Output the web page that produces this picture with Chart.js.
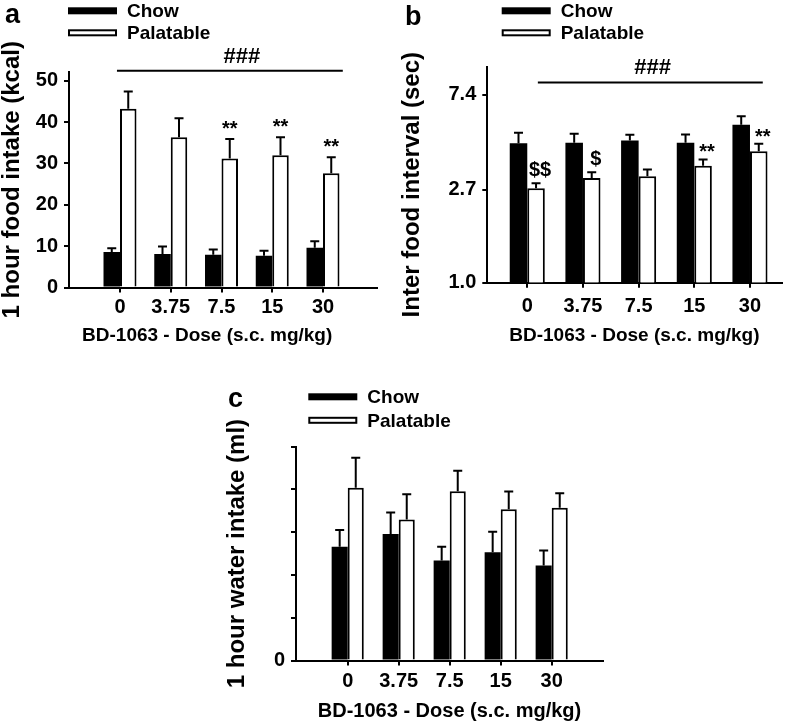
<!DOCTYPE html>
<html>
<head>
<meta charset="utf-8">
<script src="https://cdn.jsdelivr.net/npm/chart.js@4.4.1/dist/chart.umd.min.js"></script>
<style>
  body { margin: 0; background: #fff; }
  #wrap { position: relative; width: 796px; height: 727px; }
  #wrap canvas { position: absolute; left: 0; top: 0; }
</style>
</head>
<body>
<div id="wrap">
  <canvas id="chartA" width="796" height="727"></canvas>
  <canvas id="chartB" width="796" height="727"></canvas>
  <canvas id="chartC" width="796" height="727"></canvas>
</div>
<script>
const doses = ['0', '3.75', '7.5', '15', '30'];
const seriesNames = ['Chow', 'Palatable'];

// a: 1 hour food intake (kcal)
const intakeChow = [8.6, 8.1, 7.9, 7.7, 9.6];
const intakeChowErr = [0.9, 1.8, 1.3, 1.2, 1.6];
const intakePal = [43.2, 36.3, 31.2, 32.0, 27.6];
const intakePalErr = [4.2, 4.6, 4.7, 4.3, 3.9];
const intakeSig = ['', '', '**', '**', '**'];
const intakeTicks = [0, 10, 20, 30, 40, 50];

// b: inter food interval (sec), log axis
const intervalChow = [4.42, 4.44, 4.55, 4.44, 5.38];
const intervalChowErr = [0.52, 0.45, 0.29, 0.41, 0.51];
const intervalPal = [2.74, 3.05, 3.11, 3.48, 4.06];
const intervalPalErr = [0.15, 0.20, 0.23, 0.24, 0.34];
const intervalSig = ['$$', '$', '', '**', '**'];
const intervalTicks = [1.0, 2.7, 7.4];

// c: 1 hour water intake (ml), axis unlabelled except 0
const waterChow = [2.66, 2.96, 2.34, 2.53, 2.22];
const waterChowErr = [0.39, 0.50, 0.32, 0.48, 0.35];
const waterPal = [4.04, 3.30, 3.96, 3.54, 3.57];
const waterPalErr = [0.70, 0.59, 0.48, 0.41, 0.34];
const waterTicks = [0, 1, 2, 3, 4, 5];

const FONT = "'Liberation Sans', Arial, Helvetica, sans-serif";
const xTitleText = 'BD-1063 - Dose (s.c. mg/kg)';

// error bars, significance marks, ### line, legend and panel letter
const panelDecor = {
  id: 'panelDecor',
  afterDatasetsDraw(chart, args, opts) {
    const ctx = chart.ctx;
    const x = chart.scales.x, y = chart.scales.y;
    ctx.save();
    ctx.strokeStyle = '#000';
    ctx.fillStyle = '#000';
    ctx.lineWidth = 2;

    chart.data.datasets.forEach((ds, di) => {
      const meta = chart.getDatasetMeta(di);
      meta.data.forEach((bar, i) => {
        const top = y.getPixelForValue(ds.data[i].y + ds.errors[i]);
        ctx.beginPath();
        ctx.moveTo(bar.x, bar.y);
        ctx.lineTo(bar.x, top);
        ctx.moveTo(bar.x - 4.5, top);
        ctx.lineTo(bar.x + 4.5, top);
        ctx.stroke();
      });
    });

    if (opts.marks) {
      const ds = chart.data.datasets[1];
      const meta = chart.getDatasetMeta(1);
      ctx.font = `bold 20px ${FONT}`;
      ctx.textAlign = 'center';
      ctx.textBaseline = 'alphabetic';
      opts.marks.forEach((m, i) => {
        if (!m) return;
        const top = y.getPixelForValue(ds.data[i].y + ds.errors[i]);
        const gap = m.includes('$') ? opts.dollarGap : opts.starGap;
        ctx.fillText(m, meta.data[i].x + opts.dx, top - gap);
      });
    }

    if (opts.hash) {
      const h = opts.hash;
      const x1 = x.getPixelForValue(h.from), x2 = x.getPixelForValue(h.to);
      const yy = y.getPixelForValue(h.value);
      ctx.beginPath();
      ctx.moveTo(x1, yy);
      ctx.lineTo(x2, yy);
      ctx.stroke();
      ctx.font = `bold 22px ${FONT}`;
      ctx.textAlign = 'center';
      ctx.textBaseline = 'alphabetic';
      ctx.fillText('###', x.getPixelForValue(h.textAt), yy - 8);
    }

    const lg = opts.legend;
    chart.data.datasets.forEach((ds, di) => {
      const ty = lg.y + di * lg.gap;
      ctx.fillStyle = ds.backgroundColor;
      ctx.fillRect(lg.x, ty, 49, 7);
      if (ds.borderWidth) {
        ctx.strokeStyle = ds.borderColor;
        ctx.lineWidth = 2;
        ctx.strokeRect(lg.x + 1, ty + 1, 47, 5);
      }
      ctx.fillStyle = '#000';
      ctx.font = `bold 19px ${FONT}`;
      ctx.textAlign = 'left';
      ctx.textBaseline = 'middle';
      ctx.fillText(ds.label, lg.x + 59, ty + 4.5);
    });

    ctx.font = `bold 27px ${FONT}`;
    ctx.textAlign = 'left';
    ctx.textBaseline = 'alphabetic';
    ctx.fillText(opts.letter.text, opts.letter.x, opts.letter.y);
    ctx.restore();
  }
};

function makeChart(id, cfg) {
  const tickFont = { family: FONT, size: 20, weight: 'bold' };
  return new Chart(document.getElementById(id), {
    type: 'bar',
    data: {
      datasets: [
        {
          label: seriesNames[0],
          data: cfg.chow.map((v, i) => ({ x: i, y: v })),
          errors: cfg.chowErr,
          backgroundColor: '#000',
          borderColor: '#000',
          borderWidth: 0
        },
        {
          label: seriesNames[1],
          data: cfg.pal.map((v, i) => ({ x: i, y: v })),
          errors: cfg.palErr,
          backgroundColor: '#fff',
          borderColor: '#000',
          borderWidth: 2
        }
      ]
    },
    options: {
      responsive: false,
      animation: false,
      devicePixelRatio: 1,
      layout: { padding: cfg.padding },
      datasets: { bar: { categoryPercentage: cfg.catPct, barPercentage: 1 } },
      plugins: {
        legend: { display: false },
        tooltip: { enabled: false },
        panelDecor: cfg.decor
      },
      scales: {
        x: {
          type: 'linear',
          offset: false,
          bounds: 'data',
          min: cfg.xMin,
          max: cfg.xMax,
          afterBuildTicks: s => { s.ticks = doses.map((_, i) => ({ value: i })); },
          afterFit: s => { s.height = cfg.xHeight; },
          grid: { offset: false, drawOnChartArea: false, drawTicks: true, tickLength: 5, color: '#000', lineWidth: 2 },
          border: { color: '#000', width: 2 },
          ticks: { callback: v => doses[v], font: tickFont, color: '#000', padding: cfg.xPad, maxRotation: 0, autoSkip: false },
          title: {
            display: true, text: cfg.xTitle, color: '#000',
            font: { family: FONT, size: cfg.xTitleSize, weight: 'bold' },
            padding: { top: 0, bottom: cfg.xTitlePad }
          }
        },
        y: {
          type: cfg.yType,
          min: cfg.yMin,
          max: cfg.yMax,
          afterBuildTicks: s => { s.ticks = cfg.yTicks.map(v => ({ value: v })); },
          afterFit: s => { s.width = cfg.yWidth; },
          grid: { drawOnChartArea: false, drawTicks: true, tickLength: 5, color: '#000', lineWidth: 2 },
          border: { color: '#000', width: 2 },
          ticks: { callback: cfg.yLabel, font: tickFont, color: '#000', padding: 6, autoSkip: false },
          title: {
            display: true, text: cfg.yTitle, color: '#000',
            font: { family: FONT, size: 24, weight: 'bold', lineHeight: 1 },
            padding: { top: cfg.yTitlePad, bottom: 0 }
          }
        }
      }
    },
    plugins: [panelDecor]
  });
}

makeChart('chartA', {
  chow: intakeChow, chowErr: intakeChowErr, pal: intakePal, palErr: intakePalErr,
  padding: { left: 0, top: 72, right: 419, bottom: 380 },
  catPct: 0.65, xMin: -1.005, xMax: 5.064, xHeight: 59.5, xPad: 3,
  xTitle: xTitleText + '      ', xTitleSize: 19, xTitlePad: 0,
  yType: 'linear', yMin: 0, yMax: 52.1, yTicks: intakeTicks, yWidth: 69,
  yLabel: v => String(v), yTitle: '1 hour food intake (kcal)', yTitlePad: 0,
  decor: {
    marks: intakeSig, dx: 0, starGap: 4, dollarGap: 7,
    hash: { from: -0.06, to: 4.39, value: 52.4, textAt: 2.4 },
    legend: { x: 68, y: 7.3, gap: 22 },
    letter: { text: 'a', x: 5, y: 23 }
  }
});

makeChart('chartB', {
  chow: intervalChow, chowErr: intervalChowErr, pal: intervalPal, palErr: intervalPalErr,
  padding: { left: 400, top: 66.7, right: 14.5, bottom: 380 },
  catPct: 0.63, xMin: -0.718, xMax: 4.566, xHeight: 64.3, xPad: 7,
  xTitle: xTitleText, xTitleSize: 19, xTitlePad: 0,
  yType: 'logarithmic', yMin: 1, yMax: 10, yTicks: intervalTicks, yWidth: 87.3,
  yLabel: v => Number(v).toFixed(1), yTitle: 'Inter food interval (sec)   ', yTitlePad: 0,
  decor: {
    marks: intervalSig, dx: 4, starGap: 1, dollarGap: 7,
    hash: { from: 0.19, to: 4.23, value: 8.46, textAt: 2.25 },
    legend: { x: 501.7, y: 7.3, gap: 22 },
    letter: { text: 'b', x: 405, y: 25 }
  }
});

makeChart('chartC', {
  chow: waterChow, chowErr: waterChowErr, pal: waterPal, palErr: waterPalErr,
  padding: { left: 200, top: 446.7, right: 193, bottom: 0 },
  catPct: 0.63, xMin: -1.014, xMax: 5.006, xHeight: 66.5, xPad: 4,
  xTitle: xTitleText, xTitleSize: 20, xTitlePad: 4,
  yType: 'linear', yMin: 0, yMax: 5, yTicks: waterTicks, yWidth: 96,
  yLabel: v => (v === 0 ? '0' : ''), yTitle: '1 hour water intake (ml)', yTitlePad: 25.5,
  decor: {
    marks: null,
    legend: { x: 308.3, y: 393.3, gap: 23.5 },
    letter: { text: 'c', x: 228, y: 406.7 }
  }
});
</script>
</body>
</html>
